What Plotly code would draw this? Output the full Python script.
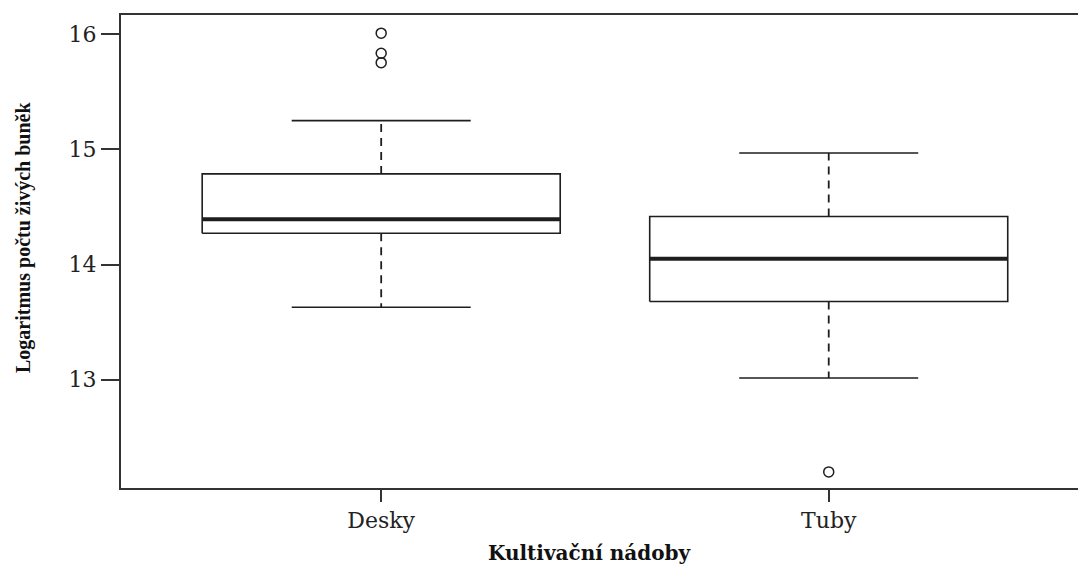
import plotly.graph_objects as go

categories = ["Desky", "Tuby"]
lower_whisker = [13.63, 13.015]
q1 = [14.273, 13.68]
median = [14.395, 14.05]
q3 = [14.788, 14.418]
upper_whisker = [15.251, 14.97]
outliers = [[16.01, 15.836, 15.754], [12.2]]
y_ticks = [13, 14, 15, 16]

LINE = "#1e1e1e"
BOX_HALF = 0.4
CAP_HALF = 0.2

fig = go.Figure()
for i, cat in enumerate(categories):
    x = i + 1
    # box
    fig.add_trace(go.Scatter(
        x=[x - BOX_HALF, x + BOX_HALF, x + BOX_HALF, x - BOX_HALF, x - BOX_HALF],
        y=[q1[i], q1[i], q3[i], q3[i], q1[i]],
        mode="lines", line=dict(color=LINE, width=1.6), hoverinfo="skip"))
    # median
    fig.add_trace(go.Scatter(
        x=[x - BOX_HALF, x + BOX_HALF], y=[median[i], median[i]],
        mode="lines", line=dict(color=LINE, width=4), hoverinfo="skip"))
    # whiskers (dashed)
    fig.add_trace(go.Scatter(
        x=[x, x, None, x, x],
        y=[q3[i], upper_whisker[i], None, q1[i], lower_whisker[i]],
        mode="lines", line=dict(color=LINE, width=1.8, dash="8px,6px"), hoverinfo="skip"))
    # caps
    fig.add_trace(go.Scatter(
        x=[x - CAP_HALF, x + CAP_HALF, None, x - CAP_HALF, x + CAP_HALF],
        y=[upper_whisker[i], upper_whisker[i], None, lower_whisker[i], lower_whisker[i]],
        mode="lines", line=dict(color=LINE, width=1.6), hoverinfo="skip"))
    # outliers
    fig.add_trace(go.Scatter(
        x=[x] * len(outliers[i]), y=outliers[i], mode="markers",
        marker=dict(symbol="circle-open", size=10, color=LINE, line=dict(width=1.5)),
        hoverinfo="skip"))

fig.update_layout(
    width=1078, height=568,
    margin=dict(l=121, r=0, t=15, b=80),
    paper_bgcolor="white", plot_bgcolor="white",
    showlegend=False,
    font=dict(family="DejaVu Serif", size=22, color="#222"),
    xaxis=dict(
        range=[0.4186, 2.557], tickvals=[1, 2], ticktext=categories,
        showgrid=False, zeroline=False, showline=True, mirror=True,
        linecolor="#333", linewidth=2, ticks="outside", ticklen=12,
        tickcolor="#333", tickwidth=1.5),
    yaxis=dict(
        range=[12.06, 16.168], tickvals=y_ticks,
        showgrid=False, zeroline=False, showline=True,
        linecolor="#333", linewidth=2, ticks="outside", ticklen=18,
        tickcolor="#333", tickwidth=1.5),
    annotations=[
        dict(text="<b>Logaritmus počtu živých buněk</b>", xref="paper", yref="paper",
             x=-0.1019, y=0.5296, textangle=-90, showarrow=False,
             font=dict(family="Liberation Serif", size=20, color="#111"),
             xanchor="center", yanchor="middle"),
        dict(text="<b>Kultivační nádoby</b>", xref="paper", yref="paper",
             x=0.490, y=-0.1374, showarrow=False,
             font=dict(family="DejaVu Serif", size=20, color="#111"),
             xanchor="center", yanchor="middle"),
    ],
)

fig.write_html("out.html")
